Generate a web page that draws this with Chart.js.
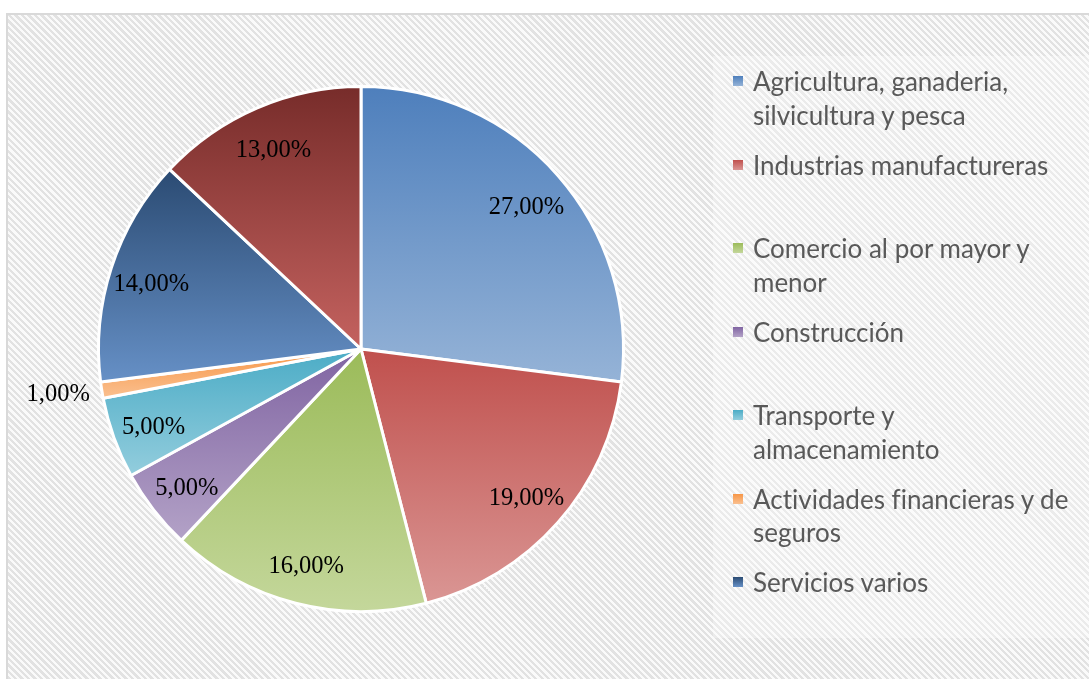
<!DOCTYPE html>
<html>
<head>
<meta charset="utf-8">
<script src="https://cdn.jsdelivr.net/npm/chart.js@4"></script>
<style>
  html, body { margin: 0; padding: 0; background: #fff; }
  #wrap { position: relative; width: 1089px; height: 679px; overflow: hidden; }
  #frame {
    position: absolute; left: 6px; top: 13px; width: 1100px; height: 700px;
    border-left: 2px solid #d9d9d9; border-top: 2px solid #d9d9d9;
    background: repeating-linear-gradient(45deg, #fafafa 0px, #fafafa 2.3px, #e2e2e2 2.3px, #e2e2e2 4.6px);
  }
  #legbox {
    position: absolute; left: 713px; top: 56px; width: 380px; height: 582px;
    background: rgba(255,255,255,0.3);
  }
  #chartbox { position: absolute; left: 0; top: 0; width: 1089px; height: 679px; }
  #legend { position: absolute; left: 733px; top: 65px; width: 356px;
    font-family: Lato, "Open Sans", sans-serif; font-size: 26px; color: #595959;
    font-variant-ligatures: none; }
  .item { position: relative; height: 83.5px; }
  .mk { position: absolute; left: 0; top: 11px; width: 10px; height: 10px; }
  .tx { position: absolute; left: 20px; top: 0; line-height: 33.5px; white-space: nowrap; }
</style>
</head>
<body>
<div id="wrap">
  <div id="frame"></div>
  <div id="legbox"></div>
  <div id="chartbox"><canvas id="c" width="1089" height="679"></canvas></div>
  <div id="legend"></div>
</div>
<script>
// ---- data ----
const categories = [
  ["Agricultura, ganaderia,", "silvicultura y pesca"],
  ["Industrias manufactureras"],
  ["Comercio al por mayor y", "menor"],
  ["Construcción"],
  ["Transporte y", "almacenamiento"],
  ["Actividades financieras y de", "seguros"],
  ["Servicios varios"],
  ["Otros"]
];
const values = [27, 19, 16, 5, 5, 1, 14, 13];
const legendShown = [true, true, true, true, true, true, true, false];
const colorsTop =    ["#4E7FBC", "#C0504D", "#9BBB59", "#8064A2", "#4BACC6", "#F79646", "#2B4B73", "#772C2A"];
const colorsBottom = ["#95B3D7", "#DA9694", "#C4D79B", "#B3A2C7", "#93CDDD", "#FAC090", "#6690C6", "#C4625F"];

function fmt(v) { return v.toFixed(2).replace('.', ',') + '%'; }

// ---- gradient fill per slice (style only) ----
const gradientPlugin = {
  id: 'sliceGradient',
  beforeDatasetsDraw(chart) {
    const ctx = chart.ctx;
    const meta = chart.getDatasetMeta(0);
    meta.data.forEach((arc, i) => {
      const {x, y, startAngle, endAngle, outerRadius} = arc.getProps(['x','y','startAngle','endAngle','outerRadius'], true);
      let ys = [y, y + outerRadius * Math.sin(startAngle), y + outerRadius * Math.sin(endAngle)];
      for (let k = -4; k <= 8; k++) {
        const a = k * Math.PI / 2;
        if (a > startAngle && a < endAngle) ys.push(y + outerRadius * Math.sin(a));
      }
      const top = Math.min(...ys), bottom = Math.max(...ys);
      const g = ctx.createLinearGradient(0, top, 0, bottom);
      g.addColorStop(0, colorsTop[i]);
      g.addColorStop(1, colorsBottom[i]);
      arc.options = Object.assign({}, arc.options, {backgroundColor: g});
    });
  }
};

// ---- data labels ----
const labelPlugin = {
  id: 'sliceLabels',
  afterDatasetsDraw(chart) {
    const ctx = chart.ctx;
    const meta = chart.getDatasetMeta(0);
    ctx.save();
    ctx.font = '24.5px "Liberation Serif", "Times New Roman", serif';
    ctx.fillStyle = '#000';
    ctx.textBaseline = 'middle';
    meta.data.forEach((arc, i) => {
      const {x, y, startAngle, endAngle, outerRadius} = arc.getProps(['x','y','startAngle','endAngle','outerRadius'], true);
      const mid = (startAngle + endAngle) / 2;
      const v = values[i];
      if (v >= 2) {
        const r = outerRadius * 0.84;
        ctx.textAlign = 'center';
        ctx.fillText(fmt(v), x + r * Math.cos(mid), y + r * Math.sin(mid) + 4);
      } else {
        const r = outerRadius + 12;
        ctx.textAlign = Math.cos(mid) < 0 ? 'right' : 'left';
        ctx.fillText(fmt(v), x + r * Math.cos(mid), y + r * Math.sin(mid) + 3);
      }
    });
    ctx.restore();
  }
};

new Chart(document.getElementById('c'), {
  type: 'pie',
  data: {
    labels: categories,
    datasets: [{
      data: values,
      backgroundColor: colorsTop,
      borderColor: '#ffffff',
      borderWidth: 3
    }]
  },
  options: {
    responsive: false,
    animation: false,
    layout: { padding: { left: 97, right: 464, top: 85, bottom: 66 } },
    plugins: {
      legend: { display: false },
      tooltip: { enabled: false }
    }
  },
  plugins: [gradientPlugin, labelPlugin]
});

// ---- HTML legend ----
const leg = document.getElementById('legend');
categories.forEach((lines, i) => {
  if (!legendShown[i]) return;
  const it = document.createElement('div');
  it.className = 'item';
  const mk = document.createElement('div');
  mk.className = 'mk';
  mk.style.background = 'linear-gradient(to bottom,' + colorsTop[i] + ',' + colorsBottom[i] + ')';
  const tx = document.createElement('div');
  tx.className = 'tx';
  tx.innerHTML = lines.join('<br>');
  it.appendChild(mk); it.appendChild(tx);
  leg.appendChild(it);
});
</script>
</body>
</html>
